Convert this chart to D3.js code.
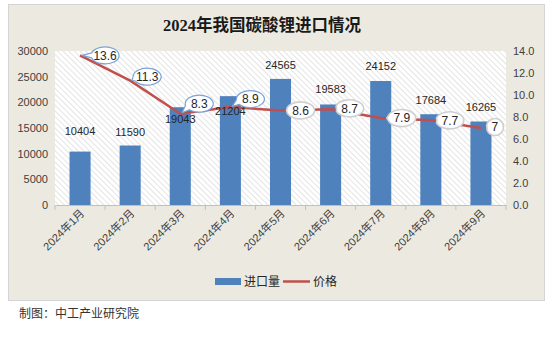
<!DOCTYPE html>
<html><head><meta charset="utf-8">
<script src="https://cdn.jsdelivr.net/npm/d3@7"></script>
<style>
html,body{margin:0;padding:0;background:#fff;}
svg{display:block;}
text{font-family:"Liberation Sans","Noto Sans CJK SC",sans-serif;}
</style></head><body>
<svg id="chart" width="554" height="346"></svg>
<script>
const title = "2024年我国碳酸锂进口情况";
const categories = ["2024年1月","2024年2月","2024年3月","2024年4月","2024年5月","2024年6月","2024年7月","2024年8月","2024年9月"];
const volume = [10404,11590,19043,21204,24565,19583,24152,17684,16265];
const price = [13.6,11.3,8.3,8.9,8.6,8.7,7.9,7.7,7];
const priceLabels = ["13.6","11.3","8.3","8.9","8.6","8.7","7.9","7.7","7"];
const leftTicks = [0,5000,10000,15000,20000,25000,30000];
const rightTicks = [0,2,4,6,8,10,12,14];
const seriesNames = ["进口量","价格"];
const source = "制图：中工产业研究院";
// annotation placement (pixels) for bar value labels: gap above bar top (negative = below)
const barLabelGap = [21,14,-12,-15,14,15,15,14,15];

const svg = d3.select("#chart");
const box = {x:8.5,y:4.5,w:536,h:296};
const m = {l:55,t:51,r:506,b:205};

svg.append("rect").attr("x",box.x).attr("y",box.y).attr("width",box.w).attr("height",box.h)
  .attr("fill","#ECEAE0").attr("stroke","#D4D4D4").attr("stroke-width",1);

const defs = svg.append("defs");
const pat = defs.append("pattern").attr("id","hatch").attr("patternUnits","userSpaceOnUse")
  .attr("width",4).attr("height",4).attr("patternTransform","rotate(-45)");
pat.append("rect").attr("width",4).attr("height",4).attr("fill","#FFFFFF");
pat.append("line").attr("x1",0).attr("y1",0).attr("x2",0).attr("y2",4)
  .attr("stroke","#D6D6D6").attr("stroke-width",1.3);

const x = d3.scaleBand().domain(categories).range([m.l,m.r]).paddingInner(0).paddingOuter(0);
const yL = d3.scaleLinear().domain([0,30000]).range([m.b,m.t]);
const yR = d3.scaleLinear().domain([0,14]).range([m.b,m.t]);

svg.append("rect").attr("x",m.l).attr("y",m.t).attr("width",m.r-m.l).attr("height",m.b-m.t)
  .attr("fill","url(#hatch)");

// bars
const bw = x.bandwidth()*0.42;
svg.append("g").selectAll("rect").data(volume).join("rect")
  .attr("x",(d,i)=>x(categories[i])+x.bandwidth()/2-bw/2)
  .attr("y",d=>yL(d)).attr("width",bw).attr("height",d=>yL(0)-yL(d))
  .attr("fill","#4F81BD");

// x axis
const xAxis = svg.append("g").attr("transform",`translate(0,${m.b})`)
  .call(d3.axisBottom(x).tickSize(0).tickFormat(""));
xAxis.select(".domain").attr("stroke","#BFBFBF");
const bounds = d3.range(categories.length+1).map(i=>m.l+i*x.step());
svg.append("g").selectAll("line").data(bounds).join("line")
  .attr("x1",d=>d).attr("x2",d=>d).attr("y1",m.b).attr("y2",m.b+5).attr("stroke","#BFBFBF");
svg.append("g").selectAll("text").data(categories).join("text")
  .attr("transform",(d)=>`translate(${x(d)+x.bandwidth()/2+5},${m.b+9}) rotate(-45)`)
  .attr("text-anchor","end").attr("font-size",11).attr("fill","#404040").text(d=>d);

// left axis
const la = svg.append("g").attr("transform",`translate(${m.l},0)`)
  .call(d3.axisLeft(yL).tickValues(leftTicks).tickSize(0).tickPadding(7).tickFormat(d3.format("d")));
la.select(".domain").remove();
la.selectAll("text").attr("font-size",11).attr("fill","#404040").attr("font-family","Liberation Sans");

// right axis
const ra = svg.append("g").attr("transform",`translate(${m.r},0)`)
  .call(d3.axisRight(yR).tickValues(rightTicks).tickSize(0).tickPadding(7).tickFormat(d3.format(".1f")));
ra.select(".domain").remove();
ra.selectAll("text").attr("font-size",11).attr("fill","#404040").attr("font-family","Liberation Sans");

// line
const cx = (i)=>x(categories[i])+x.bandwidth()/2;
const line = d3.line().x((d,i)=>cx(i)).y(d=>yR(d));
svg.append("path").datum(price).attr("d",line).attr("fill","none")
  .attr("stroke","#C0504D").attr("stroke-width",2.5);

// bar labels
svg.append("g").selectAll("text").data(volume).join("text")
  .attr("x",(d,i)=>cx(i)).attr("y",(d,i)=>yL(d)-barLabelGap[i]+4)
  .attr("text-anchor","middle").attr("font-size",11).attr("fill","#262626").text(d=>d);

// price callouts
const calloutOff = [[25,0],[17,-4],[19,-10],[20,-8],[20,0],[19,-1],[21,0],[19,0],[14,-1]];
const cg = svg.append("g");
price.forEach((v,i)=>{
  const px = cx(i), py = yR(v);
  const [dx,dy] = calloutOff[i];
  const lx = px+dx, ly = py+dy;
  const lab = priceLabels[i];
  const rx = lab.length>1 ? 14 : 8.5, ry = 8.5;
  const blue = i<4;
  const g = cg.append("g");
  const ang = Math.atan2(py-ly, px-lx);
  const a1 = ang+0.3, a2 = ang-0.3;
  const back = blue?2:6;
  const tx = px+back*Math.cos(ang+Math.PI), ty = py+back*Math.sin(ang+Math.PI);
  const p1 = [lx+rx*Math.cos(a1), ly+ry*Math.sin(a1)];
  const p2 = [lx+rx*Math.cos(a2), ly+ry*Math.sin(a2)];
  const pth = `M${p1[0]},${p1[1]} L${tx},${ty} L${p2[0]},${p2[1]} A${rx},${ry} 0 1 0 ${p1[0]},${p1[1]} Z`;
  g.append("path").attr("d",pth).attr("fill","#FFFFFF")
    .attr("stroke",blue?"#7BA3D6":"#D0D0D0").attr("stroke-width",blue?1.2:1.6)
    .attr("stroke-linejoin","round");
  g.append("text").attr("x",lx).attr("y",ly+4.2).attr("text-anchor","middle")
    .attr("font-size",12).attr("fill","#262626").text(lab);
});

// title
svg.append("text").attr("x",262).attr("y",31).attr("text-anchor","middle")
  .attr("font-size",16.5).attr("font-weight","bold").attr("fill","#1a1a1a")
  .style("font-family","'Liberation Serif','Noto Sans CJK SC',serif").text(title);

// legend
const lg = svg.append("g");
lg.append("rect").attr("x",215).attr("y",278).attr("width",26).attr("height",7).attr("fill","#4F81BD");
lg.append("text").attr("x",244).attr("y",286).attr("font-size",12).attr("fill","#262626").text(seriesNames[0]);
lg.append("line").attr("x1",283).attr("x2",310).attr("y1",281.5).attr("y2",281.5).attr("stroke","#C0504D").attr("stroke-width",2.5);
lg.append("text").attr("x",313).attr("y",286).attr("font-size",12).attr("fill","#262626").text(seriesNames[1]);

// source
svg.append("text").attr("x",19).attr("y",318).attr("font-size",12).attr("fill","#333").text(source);
</script>
</body></html>
